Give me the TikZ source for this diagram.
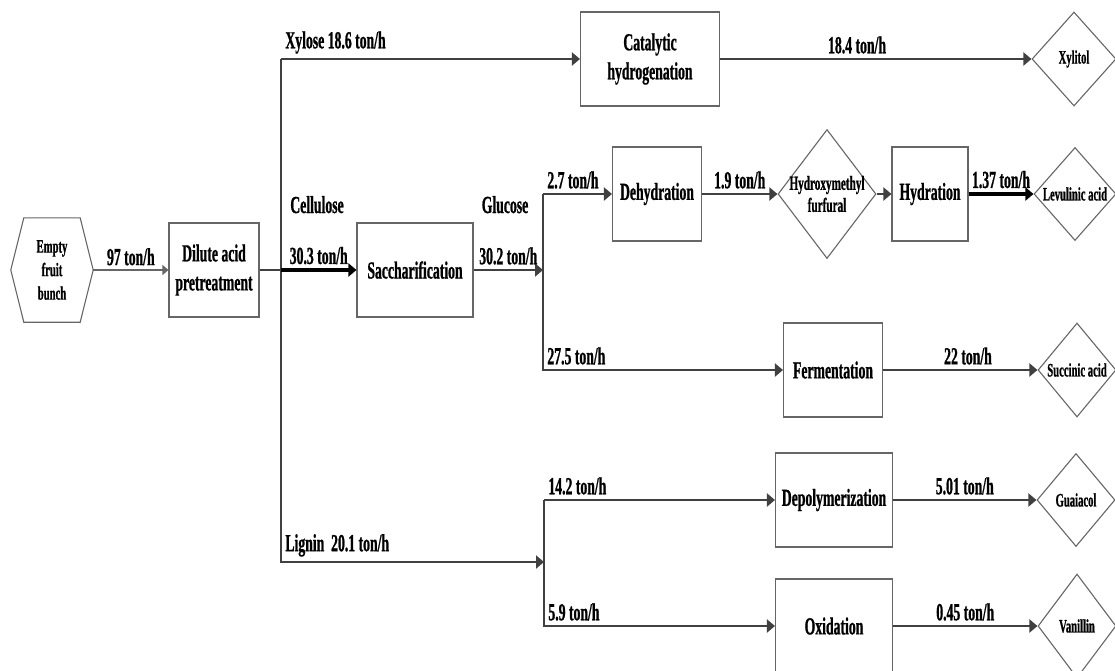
\documentclass[tikz,border=0pt]{standalone}
\usepackage{fontspec}
\setmainfont{Liberation Serif}[FakeStretch=0.56, FakeBold=0.8]
\usetikzlibrary{calc, positioning, arrows.meta, shapes.geometric}

\definecolor{linegray}{HTML}{404040}
\definecolor{edgegray}{HTML}{666666}

\begin{document}
\begin{tikzpicture}[x=1pt, y=-1pt,
					procbox/.style={
						draw=edgegray,
						rectangle,
						align=center,
						inner sep=0pt,
						line width=1.1pt,
						minimum height=94pt,
						font=\bfseries\fontsize{24.5}{29}\selectfont
					},
					prodbox/.style={
						draw=edgegray,
						diamond,
						align=center,
						inner sep=-6pt,
						line width=1.1pt,
						font=\bfseries\fontsize{19}{22}\selectfont
					},
					flow/.style={
						-{Triangle[length=8pt, width=13pt]},
						line width=2.8pt,
						color=linegray
					},
					pipe/.style={line width=2.8pt, color=linegray},
					rate/.style={
						inner xsep=3pt,
						inner ysep=4pt,
						text=black,
						font=\bfseries\fontsize{24.5}{29}\selectfont
					}
					]
					\useasboundingbox (0, 0) rectangle (1115, 670);
					
					% Feed
					\node (bunch) [minimum width=82pt, minimum height=104pt, inner sep=0pt, align=center,
						font=\bfseries\fontsize{19}{23.5}\selectfont] at (52, 270) {Empty \\ fruit \\ bunch};
					\draw [edgegray, line width=1.1pt] (bunch.west) -- ([xshift=13pt]bunch.north west)
						-- ([xshift=-13pt]bunch.north east) -- (bunch.east)
						-- ([xshift=-13pt]bunch.south east) -- ([xshift=13pt]bunch.south west) -- cycle;
					
					% Process boxes
					\node (dilute) [procbox, minimum width=90pt] at (214, 270) {Dilute acid \\ pretreatment};
					\node (sacch) [procbox, minimum width=116pt] at (415, 270) {Saccharification};
					\node (catal) [procbox, minimum width=139pt] at (650, 59) {Catalytic \\ hydrogenation};
					\node (dehyd) [procbox, minimum width=89pt] at (657, 194) {Dehydration};
					\node (hydra) [procbox, minimum width=76pt] at (930, 194) {Hydration};
					\node (ferment) [procbox, minimum width=99pt] at (833, 370) {Fermentation};
					\node (depoly) [procbox, minimum width=117pt] at (834, 500) {Depolymerization};
					\node (oxid) [procbox, minimum width=117pt] at (834, 626) {Oxidation};
					
					% Products
					\node (hmf) [prodbox, minimum width=98pt, minimum height=129pt,
						font=\bfseries\fontsize{20}{22}\selectfont] at (827, 194) {Hydroxymethyl \\ furfural};
					\node (xylitol) [prodbox, minimum width=84pt, minimum height=94pt] at (1074, 59) {Xylitol};
					\node (levul) [prodbox, minimum width=82pt, minimum height=93pt] at (1075, 194) {Levulinic acid};
					\node (succin) [prodbox, minimum width=78pt, minimum height=94pt] at (1077, 370) {Succinic acid};
					\node (guaia) [prodbox, minimum width=78pt, minimum height=93pt] at (1076, 500) {Guaiacol};
					\node (vanil) [prodbox, minimum width=78pt, minimum height=104pt] at (1077, 626) {Vanillin};
					
					% Split points
					\coordinate (xyl) at (281, 59);
					\coordinate (cel) at (281, 270);
					\coordinate (lig) at (544, 562);
					\coordinate (glu) at (543, 270);
					\coordinate (gluA) at (543, 194);
					\coordinate (ligA) at (544, 500);
					
					% Streams
					\draw [-{Triangle[length=6pt, width=10pt]}, line width=1.3pt, color=edgegray]
					(bunch) -- node[rate, above] (r97) {97 ton/h} (dilute);
					\draw [pipe] (dilute) -- (cel);
					\draw [flow] (xyl) |- node[rate, above right, pos=0.5] (rlig) {Lignin\ \ 20.1 ton/h} (lig);
					\draw [flow] (xyl) -- node[rate, above right, pos=0] (rxyl) {Xylose 18.6 ton/h} (catal);
					\draw [flow, color=black, line width=3.4pt] (cel) -- node[rate, above] (rcel) {30.3 ton/h} (sacch);
					\node (ncel) [rate, anchor=base] at (317, 213) {Cellulose};
					\draw [flow] (sacch) -- node[rate, above] (rglu) {30.2 ton/h} (glu);
					\node (nglu) [rate, anchor=base] at (505, 213) {Glucose};
					
					\draw [flow] (gluA) |- node[rate, above right, pos=0.5] (r275) {27.5 ton/h} (ferment);
					\draw [flow] (gluA) -- node[rate, above right, pos=0] (r27) {2.7 ton/h} (dehyd);
					\draw [flow] (dehyd) -- node[rate, above] (r19) {1.9 ton/h} (hmf);
					\draw [flow] (hmf) -- (hydra);
					\draw [flow, color=black, line width=3.4pt] (hydra) -- node[rate, above] (r137) {1.37 ton/h} (levul);
					\draw [flow] (ferment) -- node[rate, above, pos=0.55] (r22) {22 ton/h} (succin);
					\draw [flow] (catal) -- node[rate, above, pos=0.44] (r184) {18.4 ton/h} (xylitol);
					
					\draw [flow] (ligA) |- node[rate, above right, pos=0.5] (r59) {5.9 ton/h} (oxid);
					\draw [flow] (ligA) -- node[rate, above right, pos=0] (r142) {14.2 ton/h} (depoly);
					\draw [flow] (depoly) -- node[rate, above] (r501) {5.01 ton/h} (guaia);
					\draw [flow] (oxid) -- node[rate, above] (r045) {0.45 ton/h} (vanil);
					
				\end{tikzpicture}
\end{document}
